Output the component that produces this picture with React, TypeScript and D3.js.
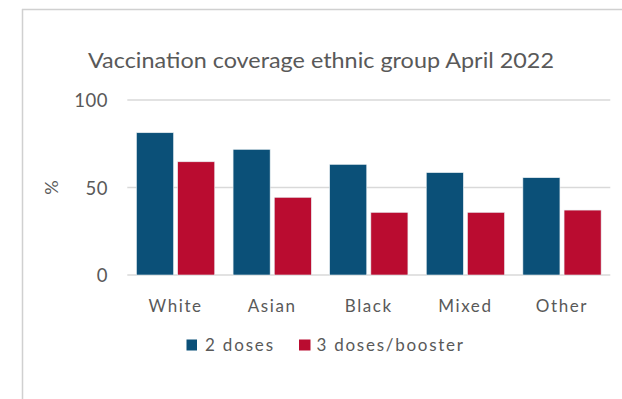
import React from "react";
import * as d3 from "d3";

const categories = ["White", "Asian", "Black", "Mixed", "Other"];
const seriesNames = ["2 doses", "3 doses/booster"];
const twoDoses = [81.3, 71.8, 63.2, 58.5, 55.6];
const threeDoses = [64.7, 44.4, 35.8, 35.8, 37.1];
const yTicks = [0, 50, 100];
const colors = ["#0b5078", "#ba0c30"];
const title = "Vaccination coverage ethnic group April 2022";

export default function App() {
  const W = 622, H = 399;
  const x0 = d3.scaleBand<string>().domain(categories).range([127.3, 610.3]).paddingInner(0.19).paddingOuter(0.095);
  const x1 = d3.scaleBand<string>().domain(seriesNames).range([0, x0.bandwidth()]).paddingInner(0.1);
  const y = d3.scaleLinear().domain([0, 100]).range([275, 100]);
  const series = [twoDoses, threeDoses];
  const font = "Lato, 'Open Sans', sans-serif";
  const txt = "#595959";
  return (
    <div style={{ position: "absolute", left: 0, top: 0 }}>
      <svg width={W} height={H} style={{ display: "block" }}>
        <rect width={W} height={H} fill="#fff" />
        <line x1={22.5} x2={22.5} y1={9} y2={H} stroke="#d0d0d0" strokeWidth={1.5} />
        <line x1={22} x2={W} y1={9.5} y2={9.5} stroke="#d0d0d0" strokeWidth={1.5} />
        <text x={321} y={68} textAnchor="middle" fontFamily={font} fontSize={22} fill={txt} textLength={466} lengthAdjust="spacingAndGlyphs">{title}</text>
        {yTicks.map((t) => (
          <g key={t}>
            <line x1={127.3} x2={610.3} y1={y(t)} y2={y(t)} stroke="#d9d9d9" strokeWidth={1.3} />
            <text x={108} y={y(t) + 7} textAnchor="end" fontFamily={font} fontSize={18.5} letterSpacing={0.5} fill={txt}>{t}</text>
          </g>
        ))}
        <text transform={`translate(58,${y(50)}) rotate(-90)`} textAnchor="middle" fontFamily={font} fontSize={18} fill={txt}>%</text>
        {categories.map((c, i) => (
          <g key={c} transform={`translate(${x0(c)},0)`}>
            {seriesNames.map((s, j) => (
              <rect key={s} x={x1(s)} y={y(series[j][i])} width={x1.bandwidth()} height={y(0) - y(series[j][i])} fill={colors[j]} stroke="#e8eef2" strokeWidth={0.6} />
            ))}
            <text x={x0.bandwidth() / 2} y={312} textAnchor="middle" fontFamily={font} fontSize={17} letterSpacing={1.6} fill={txt}>{c}</text>
          </g>
        ))}
        <rect x={186.5} y={339.5} width={10.5} height={11} fill={colors[0]} />
        <text x={205} y={351} fontFamily={font} fontSize={17} fill={txt} textLength={68} lengthAdjust="spacing">{seriesNames[0]}</text>
        <rect x={299} y={339.5} width={11.5} height={11} fill={colors[1]} />
        <text x={316.5} y={351} fontFamily={font} fontSize={17} fill={txt} textLength={146.5} lengthAdjust="spacing">{seriesNames[1]}</text>
      </svg>
    </div>
  );
}
